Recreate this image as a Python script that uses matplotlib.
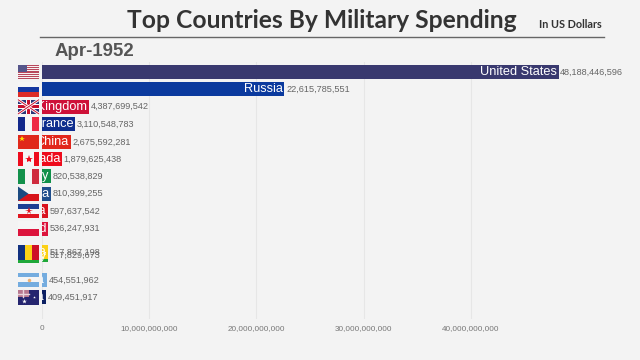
"""Bar chart race frame: top countries by military spending, Apr-1952."""

import matplotlib
matplotlib.use("Agg")
import matplotlib.pyplot as plt
from matplotlib.patches import Polygon, Rectangle
from matplotlib.ticker import FuncFormatter

countries = ["United States", "Russia", "United Kingdom", "France", "China", "Canada", "Italy",
             "Czechoslovakia", "Yugoslavia", "Poland", "Hungary", "Romania", "Argentina", "Australia"]
spending = [48188446596, 22615785551, 4387699542, 3110548783, 2675592281, 1879625438, 820538829,
            810399255, 597637542, 536247931, 517829673, 517867198, 454551962, 409451917]
# rows are mid-animation, so ranks are not whole numbers
ranks = [0, 1, 2, 3, 4.02, 5, 6, 7, 8, 9, 10.55, 10.37, 11.95, 12.96]
bar_colors = ["#39396f", "#0b3a9e", "#ce1138", "#0f2e8e", "#e2261b", "#ee0b1c", "#0f9149",
              "#1f4e8c", "#d9121f", "#dc143c", "#1fa83a", "#fcd116", "#74acdf", "#0b1f62"]
x_ticks = [0, 10000000000, 20000000000, 30000000000, 40000000000]

BG = "#f3f3f3"
plt.rcParams["font.family"] = ["Liberation Sans", "DejaVu Sans"]


# ── Flags: drawn in pixel coordinates on the overlay axes ─────────────────────

def hstripes(ov, x, y, w, h, colors):
    for i, c in enumerate(colors):
        ov.add_patch(Rectangle((x, y + i * h / len(colors)), w, h / len(colors), color=c, lw=0))


def vstripes(ov, x, y, w, h, colors):
    for i, c in enumerate(colors):
        ov.add_patch(Rectangle((x + i * w / len(colors), y), w / len(colors), h, color=c, lw=0))


def draw_flag(ov, name, x, y, w, h):
    if name == "United States":
        hstripes(ov, x, y, w, h, ["#b8475c", "#f6f0f0"] * 6 + ["#b8475c"])
        ov.add_patch(Rectangle((x, y), w * 0.42, h * 0.52, color="#55558a", lw=0))
    elif name == "Russia":
        hstripes(ov, x, y, w, h, ["#f5f5f5", "#1437a0", "#dc2b26"])
    elif name == "United Kingdom":
        ov.add_patch(Rectangle((x, y), w, h, color="#2a3578", lw=0))
        for a, b in [((x, y), (x + w, y + h)), ((x, y + h), (x + w, y))]:
            ov.plot(*zip(a, b), color="white", lw=2.0, solid_capstyle="butt")
            ov.plot(*zip(a, b), color="#c8102e", lw=0.7, solid_capstyle="butt")
        ov.add_patch(Rectangle((x + w * 0.38, y), w * 0.24, h, color="white", lw=0))
        ov.add_patch(Rectangle((x, y + h * 0.34), w, h * 0.32, color="white", lw=0))
        ov.add_patch(Rectangle((x + w * 0.44, y), w * 0.12, h, color="#c8102e", lw=0))
        ov.add_patch(Rectangle((x, y + h * 0.41), w, h * 0.18, color="#c8102e", lw=0))
    elif name == "France":
        vstripes(ov, x, y, w, h, ["#12288a", "#f5f5f5", "#ee2a45"])
    elif name == "China":
        ov.add_patch(Rectangle((x, y), w, h, color="#e0281a", lw=0))
        ov.plot(x + w * 0.18, y + h * 0.28, marker="*", ms=4, color="#ffde00", mew=0)
    elif name == "Canada":
        vstripes(ov, x, y, w, h, ["#ee0b1c", "#f5f5f5", "#f5f5f5", "#ee0b1c"])
        ov.plot(x + w * 0.5, y + h * 0.5, marker="*", ms=6, color="#ee0b1c", mew=0)
    elif name == "Italy":
        vstripes(ov, x, y, w, h, ["#13914b", "#f5f5f5", "#cf2b3e"])
    elif name == "Czechoslovakia":
        hstripes(ov, x, y, w, h, ["#f5f5f5", "#d7141a"])
        ov.add_patch(Polygon([(x, y), (x + w * 0.5, y + h / 2), (x, y + h)], color="#1b4a80", lw=0))
    elif name == "Yugoslavia":
        hstripes(ov, x, y, w, h, ["#1c3f94", "#f5f5f5", "#e0151f"])
        ov.plot(x + w * 0.5, y + h * 0.5, marker="*", ms=5.5, color="#e0151f", mew=0)
    elif name == "Poland":
        hstripes(ov, x, y, w, h, ["#f5f5f5", "#dc143c"])
    elif name == "Hungary":
        hstripes(ov, x, y, w, h, ["#cd2a3e", "#f5f5f5", "#1fa83a"])
    elif name == "Romania":
        vstripes(ov, x, y, w, h, ["#10307f", "#fcd116", "#ce1126"])
    elif name == "Argentina":
        hstripes(ov, x, y, w, h, ["#74acdf", "#f5f5f5", "#74acdf"])
        ov.plot(x + w * 0.5, y + h * 0.5, marker="o", ms=2.5, color="#f0b070", mew=0)
    elif name == "Australia":
        ov.add_patch(Rectangle((x, y), w, h, color="#25256f", lw=0))
        ov.add_patch(Rectangle((x, y), w * 0.5, h * 0.5, color="#b8788f", lw=0))
        ov.plot([x, x + w * 0.5], [y + h * 0.25, y + h * 0.25], color="#e9d5dc", lw=1)
        ov.plot([x + w * 0.25, x + w * 0.25], [y, y + h * 0.5], color="#e9d5dc", lw=1)
        ov.plot(x + w * 0.27, y + h * 0.75, marker="*", ms=3.5, color="white", mew=0)
        ov.plot(x + w * 0.75, y + h * 0.5, marker="*", ms=2, color="white", mew=0)


# ── Figure ────────────────────────────────────────────────────────────────────

fig = plt.figure(figsize=(6.4, 3.6), dpi=100, facecolor=BG)
ax = fig.add_axes([42 / 640, 1 - 319 / 360, 562 / 640, 257 / 360], facecolor="none")

ax.barh(ranks, spending, height=0.8, color=bar_colors, zorder=3)
ax.set_xlim(0, 562 / 107.2 * 1e10)
ax.set_ylim(14.2, -0.575)
ax.set_yticks([])
ax.set_xticks(x_ticks)
ax.xaxis.set_major_formatter(FuncFormatter(lambda v, _: f"{v:,.0f}"))
ax.tick_params(axis="x", length=0, pad=4, labelsize=5.9, labelcolor="#777777")
ax.grid(axis="x", color="#e6e6e6", lw=0.8, zorder=0)
ax.spines[:].set_visible(False)

for name, val, r in zip(countries, spending, ranks):
    ax.annotate(f"{val:,}", (val, r), xytext=(1.2, 0), textcoords="offset points",
                va="center", ha="left", fontsize=6.6, color="#666666", zorder=5)
    ax.annotate(name, (val, r), xytext=(-1.2, 0), textcoords="offset points", va="center",
                ha="right", fontsize=9.2, color="white", zorder=4, annotation_clip=False,
                clip_on=True)

# overlay in pixel coordinates for flags and header
ov = fig.add_axes([0, 0, 1, 1], facecolor="none")
ov.set_xlim(0, 640)
ov.set_ylim(360, 0)
ov.axis("off")

fig.canvas.draw()
for name, r in zip(countries, ranks):
    yc = 360 - ax.transData.transform((0, r))[1]
    draw_flag(ov, name, 18, yc - 7.2, 21, 14.4)

ov.plot([40, 604], [37, 37], color="#666666", lw=1)
ov.text(322, 21, "Top Countries By Military Spending", ha="center", va="center",
        fontsize=17.7, fontweight="bold", family=["Lato", "DejaVu Sans"], color="#333333")
ov.text(570.5, 25, "In US Dollars", ha="center", va="center", fontsize=7.8,
        fontweight="bold", family=["Lato", "DejaVu Sans"], color="#333333")
ov.text(55, 51.5, "Apr-1952", ha="left", va="center", fontsize=13.4, fontweight="bold",
        color="#555555")

fig.savefig("out.png", dpi=100, facecolor=BG)
plt.close(fig)
